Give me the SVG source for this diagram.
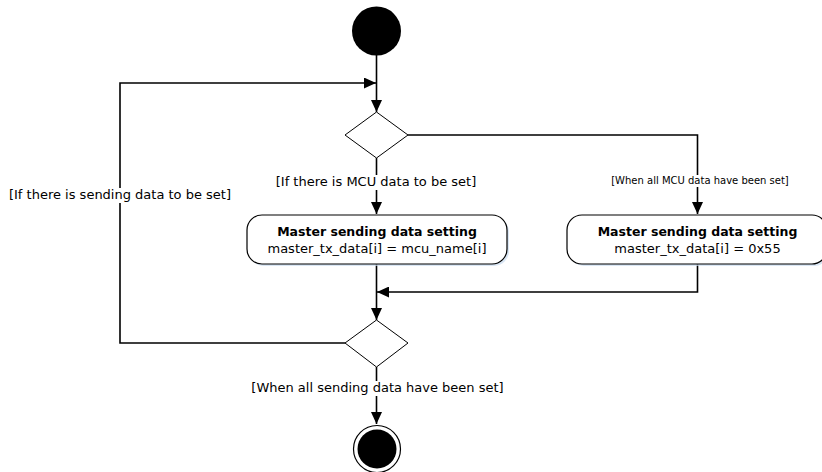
<svg xmlns="http://www.w3.org/2000/svg" width="822" height="472" viewBox="0 0 822 472">
<defs>
<style>
.ln{fill:none;stroke:#000;stroke-width:1.6}
.dia{fill:#fff;stroke:#000;stroke-width:1}
.box{fill:#fff;stroke:#000;stroke-width:1.2}
.sh{fill:#c9dcef;opacity:0.7}
.t{font-family:"DejaVu Sans",Verdana,sans-serif;font-size:13px;fill:#000;text-anchor:middle}
.b{font-family:"DejaVu Sans",Verdana,sans-serif;font-size:12.5px;font-weight:bold;fill:#000;text-anchor:middle}
.s{font-family:"DejaVu Sans",Verdana,sans-serif;font-size:10px;fill:#000;text-anchor:middle}
.bg{fill:#fff}
</style>
<marker id="ah" viewBox="0 0 12 11" refX="12" refY="5.5" markerWidth="12" markerHeight="11" markerUnits="userSpaceOnUse" orient="auto">
<path d="M0,0 L12,5.5 L0,11 z" fill="#000"/>
</marker>
</defs>
<g id="connectors">
<path class="ln" d="M376.5,55 V112" marker-end="url(#ah)"/>
<path class="ln" d="M408,135 H697.5 V214" marker-end="url(#ah)"/>
<path class="ln" d="M376.5,158 V214" marker-end="url(#ah)"/>
<path class="ln" d="M376.5,264 V320" marker-end="url(#ah)"/>
<path class="ln" d="M697.5,264 V292 H377" marker-end="url(#ah)"/>
<path class="ln" d="M345,343 H120 V83 H376" marker-end="url(#ah)"/>
<path class="ln" d="M376.5,367 V424" marker-end="url(#ah)"/>
</g>
<g id="labels">
<rect class="bg" x="272" y="175" width="208" height="15"/>
<text class="t" x="376" y="186">[If there is MCU data to be set]</text>
<rect class="bg" x="611" y="175" width="179" height="12"/>
<text class="s" x="700" y="184">[When all MCU data have been set]</text>
<rect class="bg" x="6" y="188" width="228" height="15"/>
<text class="t" x="120" y="199">[If there is sending data to be set]</text>
<rect class="bg" x="252" y="381" width="252" height="15"/>
<text class="t" x="377.5" y="392">[When all sending data have been set]</text>
</g>
<g id="start">
<circle cx="376.5" cy="31" r="24.5" fill="#000"/>
</g>
<g id="decision1">
<path class="dia" d="M376.5,112 L408,135 L376.5,158 L345,135 z"/>
</g>
<g id="action1">
<rect class="sh" x="249" y="217" width="260" height="49" rx="15"/>
<rect class="box" x="247" y="215" width="260" height="49" rx="15"/>
<text class="b" x="377" y="236">Master sending data setting</text>
<text class="t" x="377" y="253">master_tx_data[i] = mcu_name[i]</text>
</g>
<g id="action2">
<rect class="sh" x="569" y="217" width="260" height="49" rx="15"/>
<rect class="box" x="567" y="215" width="260" height="49" rx="15"/>
<text class="b" x="697.5" y="236">Master sending data setting</text>
<text class="t" x="697.5" y="253">master_tx_data[i] = 0x55</text>
</g>
<g id="decision2">
<path class="dia" d="M376.5,320 L408,343 L376.5,367 L345,343 z"/>
</g>
<g id="end">
<circle cx="377" cy="449" r="23.5" fill="#fff" stroke="#000" stroke-width="1.2"/>
<circle cx="377" cy="449" r="19.5" fill="#000"/>
</g>
</svg>
